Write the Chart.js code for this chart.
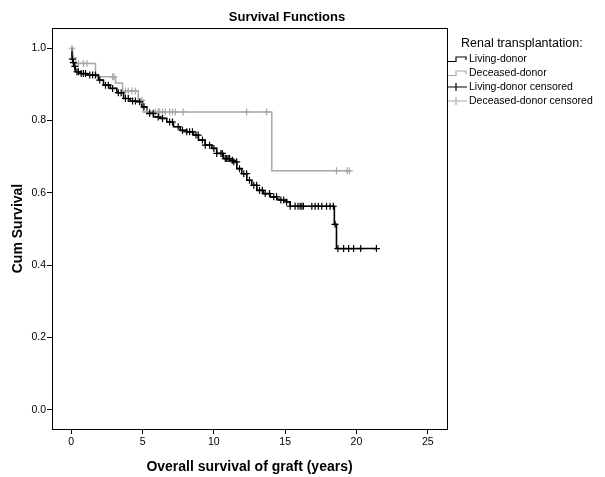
<!DOCTYPE html>
<html>
<head>
<meta charset="utf-8">
<script src="https://cdn.jsdelivr.net/npm/chart.js@4/dist/chart.umd.min.js"></script>
<style>
  html, body { margin: 0; padding: 0; background: #ffffff; }
  #wrap { position: relative; width: 605px; height: 477px; }
</style>
</head>
<body>
<div id="wrap"><canvas id="c" width="605" height="477"></canvas></div>
<script>
// ---- Data ----
const chartTitle = "Survival Functions";
const xAxisTitle = "Overall survival of graft (years)";
const yAxisTitle = "Cum Survival";
const legendTitle = "Renal transplantation:";
const seriesNames = ["Living-donor", "Deceased-donor", "Living-donor censored", "Deceased-donor censored"];

const xTickValues = [0, 5, 10, 15, 20, 25];
const yTickValues = [0.0, 0.2, 0.4, 0.6, 0.8, 1.0];

// Living-donor Kaplan-Meier step curve (time in years, cumulative survival)
const livingTime = [0, 0.05, 0.12, 0.2, 0.28, 0.63, 1.1, 1.91, 2.26, 2.73, 3.2, 3.67, 4.13, 4.6, 4.95, 5.3, 5.77, 6.24, 6.7, 7.17, 7.64, 8.1, 8.57, 8.92, 9.39, 9.86, 10.2, 10.67, 11.14, 11.37, 11.61, 11.96, 12.31, 12.66, 13.01, 13.48, 13.95, 14.42, 14.65, 15.1, 15.35, 18.45, 18.6, 21.4];
const livingSurv = [1.0, 0.97, 0.96, 0.95, 0.935, 0.930, 0.926, 0.912, 0.898, 0.889, 0.877, 0.861, 0.854, 0.852, 0.838, 0.820, 0.810, 0.806, 0.796, 0.783, 0.773, 0.769, 0.760, 0.746, 0.732, 0.723, 0.709, 0.695, 0.690, 0.686, 0.667, 0.653, 0.635, 0.621, 0.607, 0.598, 0.589, 0.582, 0.580, 0.575, 0.563, 0.513, 0.446, 0.446];

// Deceased-donor Kaplan-Meier step curve
const deceasedTime = [0, 0.1, 0.3, 1.7, 3.1, 3.6, 4.7, 5.05, 14.06, 19.6];
const deceasedSurv = [1.0, 0.973, 0.958, 0.921, 0.904, 0.882, 0.856, 0.824, 0.661, 0.661];

// Censoring times
const livingCensTime = [0.08, 0.15, 0.25, 0.4, 0.5, 0.7, 0.85, 1.0, 1.3, 1.5, 1.7, 2.0, 2.4, 2.6, 2.9, 3.3, 3.5, 3.8, 4.0, 4.3, 4.5, 4.8, 5.1, 5.5, 5.75, 6.1, 6.4, 6.9, 7.1, 7.5, 7.8, 8.1, 8.3, 8.5, 8.75, 8.9, 9.2, 9.4, 9.7, 10.0, 10.2, 10.5, 10.6, 10.8, 10.9, 11.0, 11.1, 11.3, 11.4, 11.6, 11.8, 12.1, 12.3, 12.5, 12.8, 13.0, 13.2, 13.4, 13.6, 13.9, 14.2, 14.4, 14.7, 14.9, 15.1, 15.35, 15.7, 15.9, 16.05, 16.17, 16.28, 16.87, 17.1, 17.33, 17.57, 17.9, 18.15, 18.38, 18.5, 18.7, 19.1, 19.45, 19.8, 20.3, 21.4];
const deceasedCensTime = [0.05, 0.15, 0.5, 0.85, 1.1, 2.9, 3.0, 3.8, 4.0, 4.25, 4.5, 4.95, 5.3, 5.5, 5.9, 6.1, 6.2, 6.4, 6.6, 6.9, 7.1, 7.3, 7.85, 12.3, 13.7, 18.6, 19.35, 19.5];

// ---- Build library data from the arrays ----
function stepAt(times, surv, t) {
  let s = surv[0];
  for (let i = 0; i < times.length; i++) { if (times[i] <= t) s = surv[i]; }
  return s;
}
const toXY = (xs, ys) => xs.map((x, i) => ({ x: x, y: ys[i] }));
const censXY = (ct, times, surv) => ct.map(t => ({ x: t, y: stepAt(times, surv, t) }));

const BLACK = "#000000";
const GREY = "#a8a8a8";
const FONT = "'Liberation Sans', Arial, sans-serif";

const frameAndLegend = {
  id: "frameAndLegend",
  afterDraw(chart) {
    const ctx = chart.ctx;
    const a = chart.chartArea;
    ctx.save();
    // plot frame
    ctx.strokeStyle = BLACK;
    ctx.lineWidth = 1;
    ctx.strokeRect(Math.round(a.left) + 0.5, Math.round(a.top) + 0.5, Math.round(a.right - a.left), Math.round(a.bottom - a.top));
    // chart title
    ctx.fillStyle = BLACK;
    ctx.font = "bold 13px " + FONT;
    ctx.textAlign = "center";
    ctx.textBaseline = "alphabetic";
    ctx.fillText(chartTitle, 287, 21);
    // legend
    ctx.textAlign = "left";
    ctx.font = "12.5px " + FONT;
    ctx.fillText(legendTitle, 461, 47);
    ctx.font = "10.5px " + FONT;
    ctx.textBaseline = "middle";
    const rows = [59, 73, 87, 101];
    const cols = [BLACK, GREY, BLACK, GREY];
    for (let i = 0; i < 4; i++) {
      const y = rows[i];
      ctx.strokeStyle = cols[i];
      ctx.lineWidth = 1.2;
      ctx.beginPath();
      if (i < 2) {
        ctx.moveTo(448, y + 2.5); ctx.lineTo(456, y + 2.5); ctx.lineTo(456, y - 2); ctx.lineTo(466, y - 2); ctx.lineTo(466, y + 1);
      } else {
        ctx.moveTo(448, y); ctx.lineTo(467, y);
        ctx.moveTo(456, y - 4); ctx.lineTo(456, y + 4);
      }
      ctx.stroke();
      ctx.fillStyle = BLACK;
      ctx.fillText(seriesNames[i], 469, y + 0.5);
    }
    ctx.restore();
  }
};

new Chart(document.getElementById("c"), {
  type: "scatter",
  data: {
    datasets: [
      { label: seriesNames[0], data: toXY(livingTime, livingSurv), showLine: true, stepped: "before",
        borderColor: BLACK, borderWidth: 1.6, pointRadius: 0, fill: false, order: 2 },
      { label: seriesNames[1], data: toXY(deceasedTime, deceasedSurv), showLine: true, stepped: "before",
        borderColor: GREY, borderWidth: 1.5, pointRadius: 0, fill: false, order: 3 },
      { label: seriesNames[2], data: censXY(livingCensTime, livingTime, livingSurv), showLine: false,
        pointStyle: "cross", pointRadius: 3.5, borderColor: BLACK, borderWidth: 1.2, backgroundColor: BLACK, order: 0 },
      { label: seriesNames[3], data: censXY(deceasedCensTime, deceasedTime, deceasedSurv), showLine: false,
        pointStyle: "cross", pointRadius: 3.5, borderColor: GREY, borderWidth: 1.2, backgroundColor: GREY, order: 1 }
    ]
  },
  options: {
    responsive: false,
    animation: false,
    devicePixelRatio: 1,
    layout: { padding: { top: 28, right: 158, bottom: 0, left: 0 } },
    plugins: {
      legend: { display: false },
      title: { display: false },
      tooltip: { enabled: false }
    },
    elements: { point: { hoverRadius: 3.5 } },
    scales: {
      x: {
        type: "linear", min: -1.35, max: 26.35,
        afterFit(s) { s.height = 48; },
        afterBuildTicks(s) { s.ticks = xTickValues.map(v => ({ value: v })); },
        ticks: { color: BLACK, font: { family: FONT, size: 10.5 }, padding: 2, maxRotation: 0,
                 callback: v => String(v) },
        grid: { display: true, drawOnChartArea: false, drawTicks: true, tickLength: 5, color: BLACK, lineWidth: 1 },
        border: { display: true, color: BLACK, width: 1 },
        title: { display: true, text: xAxisTitle, color: BLACK, font: { family: FONT, size: 14, weight: "bold" }, padding: { top: 0, bottom: 1 } }
      },
      y: {
        type: "linear", min: -0.053, max: 1.056,
        afterFit(s) { s.width = 52; },
        afterBuildTicks(s) { s.ticks = yTickValues.map(v => ({ value: v })); },
        ticks: { color: BLACK, font: { family: FONT, size: 10.5 }, padding: 1,
                 callback: v => Number(v).toFixed(1) },
        grid: { display: true, drawOnChartArea: false, drawTicks: true, tickLength: 5, color: BLACK, lineWidth: 1 },
        border: { display: true, color: BLACK, width: 1 },
        title: { display: true, text: yAxisTitle, color: BLACK, font: { family: FONT, size: 14, weight: "bold" }, padding: { top: 10, bottom: 0 } }
      }
    }
  },
  plugins: [frameAndLegend]
});
</script>
</body>
</html>
